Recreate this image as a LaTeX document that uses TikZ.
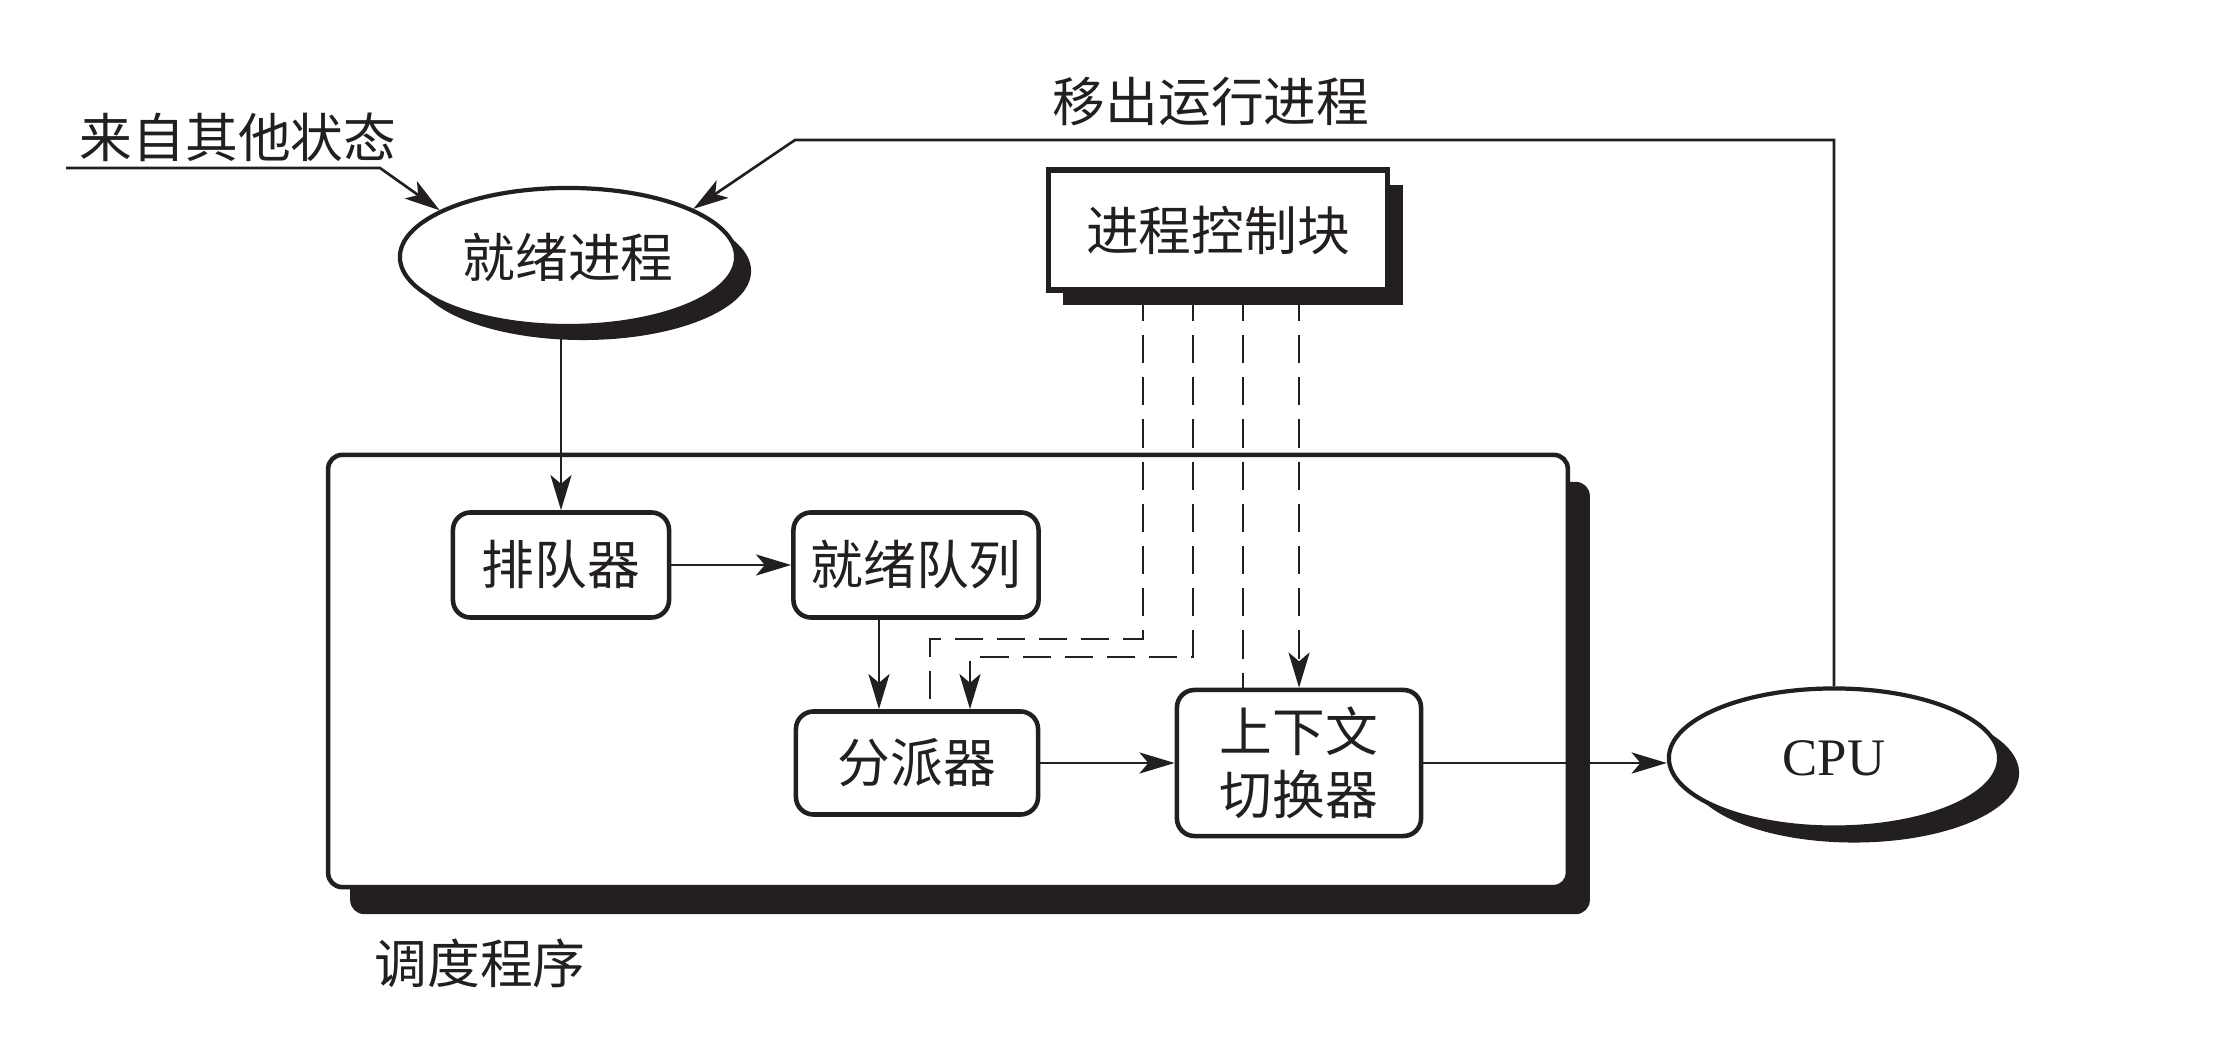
\documentclass[tikz,border=0pt]{standalone}
\usepackage{fontspec}
\setmainfont{Liberation Serif}
\newfontfamily\cjk{Noto Sans CJK SC}
\usepackage{tikz}
\usetikzlibrary{positioning, arrows.meta, shapes.geometric, shadows}
\definecolor{ink}{HTML}{231F20}

\begin{document}
\begin{tikzpicture}[x=0.01cm, y=-0.01cm, color=ink,
    font=\fontsize{15pt}{18pt}\selectfont\cjk,
    line width=0.75pt,
    proc/.style={draw, rectangle, rounded corners=5pt, line width=1.3pt,
      fill=white, inner sep=0pt, align=center},
    oval/.style={draw, ellipse, line width=1.2pt, fill=white, inner sep=0pt},
    flow/.style={-{Stealth[length=10pt, width=6pt, inset=2.5pt]}},
    ctl/.style={dash pattern=on 8pt off 4pt}]
      \useasboundingbox (0,0) rectangle (2214,1046);
      % scheduler frame and control block
      \node[draw, rectangle, rounded corners=4pt, line width=1.3pt, fill=white,
        minimum width=12.39cm, minimum height=4.32cm,
        drop shadow={shadow xshift=0.22cm, shadow yshift=-0.27cm, opacity=1, fill=ink}]
        (sched) at (948,671) {};
      \node[draw, rectangle, line width=1.6pt, fill=white,
        minimum width=3.39cm, minimum height=1.2cm,
        drop shadow={shadow xshift=0.15cm, shadow yshift=-0.15cm, opacity=1, fill=ink}]
        (pcb) at (1218,230) {进程控制块};
      % ellipses
      \node[oval, minimum width=3.36cm, minimum height=1.38cm,
        drop shadow={shadow xshift=0.15cm, shadow yshift=-0.14cm, opacity=1, fill=ink}]
        (ready) at (568,257) {就绪进程};
      \node[oval, minimum width=3.3cm, minimum height=1.39cm,
        font=\fontsize{15pt}{18pt}\selectfont\rmfamily,
        drop shadow={shadow xshift=0.2cm, shadow yshift=-0.15cm, opacity=1, fill=ink}]
        (cpu) at (1834,758) {CPU};
      % boxes inside the scheduler
      \node[proc, minimum width=2.16cm, minimum height=1.05cm] (queuer) at (561,565) {排队器};
      \node[proc, minimum width=2.45cm, minimum height=1.05cm] (readyq) at (916,565) {就绪队列};
      \node[proc, minimum width=2.42cm, minimum height=1.03cm] (dispatcher) at (917,763) {分派器};
      \node[proc, minimum width=2.44cm, minimum height=1.46cm] (switcher) at (1299,763) {上下文\\切换器};
      % labels
      \node (fromother) at (238,137) {来自其他状态};
      \node (moveout) at (1211,102) {移出运行进程};
      \node (schedname) at (480,963) {调度程序};
      % solid connectors
      \coordinate (src) at (66,168);
      \coordinate (bend) at (380,168);
      \coordinate (turn) at (795,140);
      \draw[flow] (src) -- (bend) -- (ready.160);
      \draw[flow] (cpu.north) |- (turn) -- (ready.21);
      \draw[flow] (queuer.north |- ready.south) -- (queuer.north);
      \draw[flow] (queuer) -- (readyq);
      \draw[flow] ([xshift=-0.37cm]readyq.south) -- ([xshift=-0.37cm]readyq.south |- dispatcher.north);
      \draw[flow] (dispatcher) -- (switcher);
      \draw[flow] (switcher.east) -- (switcher.east -| cpu.west);
      % dashed control lines
      \coordinate (j1) at (930,639);
      \coordinate (j2) at (970,657);
      \draw[ctl] ([xshift=-0.75cm]pcb.south) |- (j1) -- (j1 |- dispatcher.north);
      \draw[ctl, flow] ([xshift=-0.25cm]pcb.south) |- (j2) -- (j2 |- dispatcher.north);
      \draw[ctl] ([xshift=0.25cm]pcb.south) -- ([xshift=0.25cm]pcb.south |- switcher.north);
      \draw[ctl, flow] ([xshift=0.81cm]pcb.south) -- ([xshift=0.81cm]pcb.south |- switcher.north);
    \end{tikzpicture}
\end{document}
